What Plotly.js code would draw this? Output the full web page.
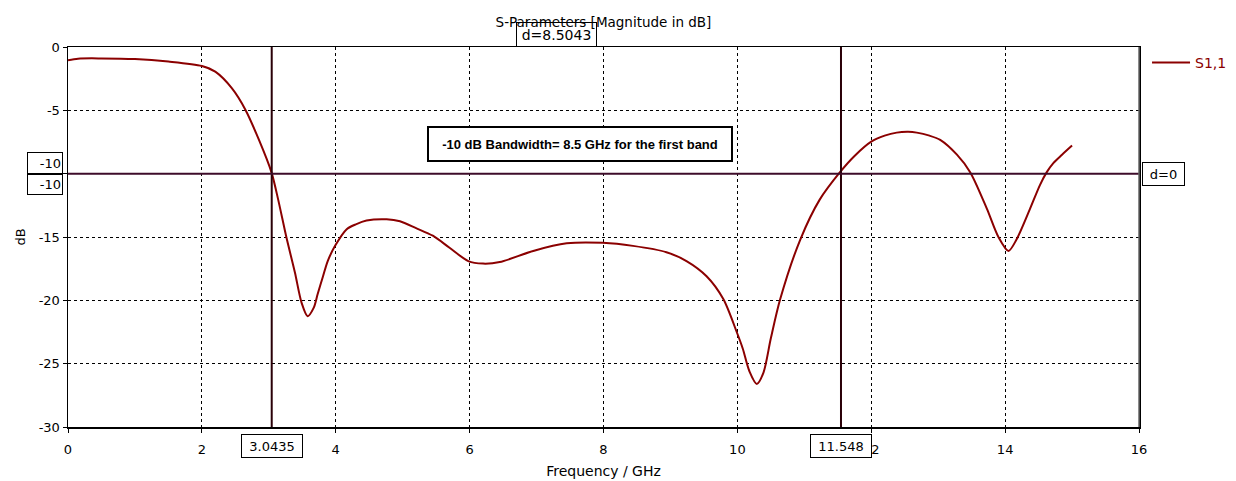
<!DOCTYPE html>
<html>
<head>
<meta charset="utf-8">
<script src="https://cdn.plot.ly/plotly-3.0.1.min.js"></script>
<style>html,body{margin:0;padding:0;background:#fff;}#chart{width:1236px;height:481px;}</style>
</head>
<body>
<div id="chart"></div>
<script>
var freq = [0,0.15,0.5,1.0,1.5,2.0,2.2,2.45,2.65,2.85,3.04,3.14,3.26,3.39,3.49,3.58,3.67,3.73,3.81,3.88,3.99,4.16,4.3,4.46,4.76,4.96,5.2,5.45,5.7,5.98,6.2,6.45,6.95,7.45,7.99,8.44,8.94,9.24,9.54,9.79,9.99,10.08,10.18,10.29,10.39,10.5,10.64,10.94,11.23,11.53,11.75,12.0,12.2,12.38,12.55,12.68,12.87,13.03,13.28,13.48,13.73,13.9,14.05,14.17,14.37,14.52,14.62,14.72,14.85,15.0];
var s11 = [-1.05,-0.92,-0.9,-0.95,-1.15,-1.5,-1.95,-3.27,-4.95,-7.3,-9.9,-12.05,-14.96,-17.8,-20.2,-21.25,-20.6,-19.5,-18.1,-16.9,-15.7,-14.4,-14.0,-13.7,-13.6,-13.76,-14.3,-14.9,-15.85,-16.9,-17.1,-16.98,-16.1,-15.5,-15.46,-15.7,-16.2,-16.9,-18.1,-19.9,-22.5,-23.8,-25.6,-26.6,-25.7,-23.0,-19.9,-15.2,-12.05,-9.9,-8.6,-7.47,-7.0,-6.76,-6.7,-6.76,-7.0,-7.33,-8.5,-9.9,-12.8,-15.0,-16.1,-15.2,-12.8,-10.9,-9.9,-9.17,-8.5,-7.78];
var xTicks = [0,2,4,6,8,10,12,14,16];
var xTickText = ["0","2","4","6","8","10","12","14","16"];
var yTicks = [0,-5,-10,-15,-20,-25,-30];
var yTickText = ["0","-5","","-15","-20","-25","-30"];
var markerX = [3.0435, 11.548];
var markerXText = ["3.0435", "11.548"];
var markerY = -10;
var deltaText = "d=8.5043";
var bandText = "-10 dB Bandwidth= 8.5 GHz for the first band";
var bandPos = [7.65, -7.65];

var font = "DejaVu Sans, Verdana, sans-serif";
var shapes = [];
markerX.forEach(function(x){
  shapes.push({type:'line', xref:'x', yref:'paper', x0:x, x1:x, y0:0, y1:1, line:{color:'#2a0008', width:2}});
});
shapes.push({type:'line', xref:'paper', yref:'y', x0:0, x1:1, y0:markerY, y1:markerY, line:{color:'#3e0c2a', width:2}});
shapes.push({type:'line', xref:'paper', yref:'paper', x0:1, x1:1, y0:0, y1:1, line:{color:'#666', width:1.5}});

var ann = [];
markerX.forEach(function(x, i){
  ann.push({xref:'x', yref:'paper', x:x, y:0, yanchor:'top', yshift:-7, text:markerXText[i], showarrow:false,
    font:{family:font, size:13, color:'#000'}, bgcolor:'#fff', bordercolor:'#000', borderwidth:1, borderpad:1, width:58, height:20});
});
ann.push({xref:'paper', yref:'y', x:0, y:markerY, xanchor:'right', yanchor:'bottom', xshift:-5, yshift:0, text:String(markerY), showarrow:false,
  font:{family:font, size:13, color:'#000'}, bgcolor:'#fff', bordercolor:'#000', borderwidth:1, borderpad:1, width:32, height:18, align:'right'});
ann.push({xref:'paper', yref:'y', x:0, y:markerY, xanchor:'right', yanchor:'top', xshift:-5, yshift:0, text:String(markerY), showarrow:false,
  font:{family:font, size:13, color:'#000'}, bgcolor:'#fff', bordercolor:'#000', borderwidth:1, borderpad:1, width:32, height:17, align:'right'});
ann.push({xref:'paper', yref:'y', x:1, y:markerY, xanchor:'left', yanchor:'middle', xshift:3, text:'d=0', showarrow:false,
  font:{family:font, size:13, color:'#000'}, bgcolor:'#fff', bordercolor:'#000', borderwidth:1, borderpad:1, width:39, height:20});
ann.push({xref:'x', yref:'paper', x:(markerX[0]+markerX[1])/2, y:1, yanchor:'bottom', text:deltaText, showarrow:false,
  font:{family:font, size:14, color:'#000'}, bgcolor:'rgba(255,255,255,0)', bordercolor:'#000', borderwidth:1, borderpad:1, width:77, height:21});
ann.push({xref:'x', yref:'y', x:bandPos[0], y:bandPos[1], text:'<b>'+bandText+'</b>', showarrow:false,
  font:{family:'Liberation Sans, Arial, sans-serif', size:13, color:'#000'}, bgcolor:'#fff', bordercolor:'#000', borderwidth:2, borderpad:1, width:300, height:30});

var trace = {x:freq, y:s11, type:'scatter', mode:'lines', name:'S1,1',
  line:{color:'#8b0000', width:2, shape:'spline', smoothing:0.8}};

var layout = {
  width:1236, height:481,
  margin:{l:68, r:97, t:47, b:54, autoexpand:false},
  paper_bgcolor:'#fff', plot_bgcolor:'#fff',
  font:{family:font, size:13, color:'#000'},
  title:{text:'S-Parameters [Magnitude in dB]', x:0.5, xref:'paper', y:0.953, yref:'container', yanchor:'middle',
    font:{family:font, size:13.5, color:'#000'}},
  xaxis:{range:[0,16], tickvals:xTicks, ticktext:xTickText, showgrid:true, gridcolor:'#000', griddash:'dot', gridwidth:1,
    showline:true, linecolor:'#000', linewidth:1.5, mirror:true, ticks:'outside', ticklen:4, tickcolor:'#000', zeroline:false,
    ticklabelstandoff:6, automargin:false,
    tickfont:{family:font, size:13}, title:{text:'Frequency / GHz', font:{family:font, size:14}, standoff:10}},
  yaxis:{range:[-30,0], tickvals:yTicks, ticktext:yTickText, showgrid:true, gridcolor:'#000', griddash:'dot', gridwidth:1,
    showline:true, linecolor:'#000', linewidth:1.5, mirror:true, ticks:'outside', ticklen:4, tickcolor:'#000', zeroline:false,
    automargin:false,
    tickfont:{family:font, size:13}, title:{text:'dB', font:{family:font, size:13}, standoff:10}},
  showlegend:true,
  legend:{x:1.0075, y:1, xanchor:'left', yanchor:'top', bgcolor:'rgba(0,0,0,0)', borderwidth:0, itemwidth:38,
    font:{family:font, size:14, color:'#8b0000'}},
  shapes:shapes, annotations:ann
};
Plotly.newPlot('chart', [trace], layout, {displayModeBar:false, staticPlot:true});
</script>
</body>
</html>
